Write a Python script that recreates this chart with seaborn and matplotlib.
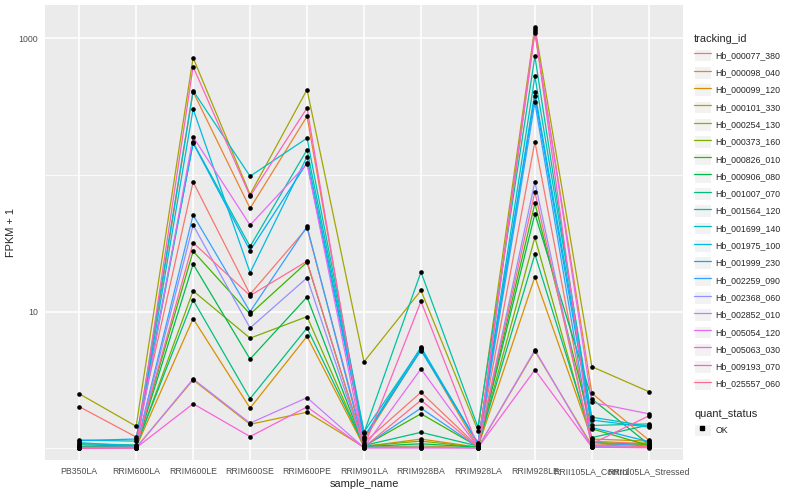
import numpy as np
import pandas as pd
import seaborn as sns
import matplotlib.pyplot as plt
from matplotlib.lines import Line2D
from matplotlib.patches import Rectangle
from matplotlib.legend_handler import HandlerTuple
import matplotlib.ticker as mticker

samples = ['PB350LA', 'RRIM600LA', 'RRIM600LE', 'RRIM600SE', 'RRIM600PE', 'RRIM901LA',
           'RRIM928BA', 'RRIM928LA', 'RRIM928LE', 'RRII105LA_Control', 'RRII105LA_Stressed']

genes = ['Hb_000077_380', 'Hb_000098_040', 'Hb_000099_120', 'Hb_000101_330', 'Hb_000254_130',
         'Hb_000373_160', 'Hb_000826_010', 'Hb_000906_080', 'Hb_001007_070', 'Hb_001564_120',
         'Hb_001699_140', 'Hb_001975_100', 'Hb_001999_230', 'Hb_002259_090', 'Hb_002368_060',
         'Hb_002852_010', 'Hb_005054_120', 'Hb_005063_030', 'Hb_009193_070', 'Hb_025557_060']

# FPKM + 1, one row per gene, columns follow `samples`
Hb_000077_380 = [2.02, 1.21, 89, 13.4, 41, 1.10, 2.57, 1.03, 175, 1.13, 1.08]
Hb_000098_040 = [1.02, 1.02, 407, 57, 269, 1.15, 5.3, 1.02, 1099, 2.53, 1.15]
Hb_000099_120 = [1.01, 1.02, 8.9, 1.97, 6.6, 1.03, 1.17, 1.02, 18.0, 1.17, 1.13]
Hb_000101_330 = [1.01, 1.01, 3.17, 1.50, 1.84, 1.02, 1.04, 1.01, 5.15, 1.05, 1.10]
Hb_000254_130 = [2.51, 1.45, 721, 72, 421, 4.3, 14.3, 1.35, 1216, 3.96, 2.60]
Hb_000373_160 = [1.02, 1.02, 14.2, 6.4, 9.2, 1.04, 1.13, 1.02, 35, 1.11, 1.06]
Hb_000826_010 = [1.02, 1.03, 27.7, 9.6, 23.0, 1.04, 1.79, 1.03, 62, 1.39, 1.05]
Hb_000906_080 = [1.02, 1.02, 22.3, 4.5, 12.8, 1.03, 1.08, 1.02, 52, 2.30, 1.07]
Hb_001007_070 = [1.06, 1.04, 12.2, 2.31, 7.6, 1.05, 1.31, 1.04, 26.3, 1.20, 1.48]
Hb_001564_120 = [1.08, 1.06, 173, 30, 153, 1.30, 19.5, 1.43, 738, 1.47, 1.51]
Hb_001699_140 = [1.15, 1.13, 414, 98, 186, 1.32, 5.4, 1.08, 527, 1.69, 1.45]
Hb_001975_100 = [1.10, 1.04, 304, 19.3, 136, 1.21, 5.5, 1.08, 403, 1.61, 1.43]
Hb_001999_230 = [1.14, 1.17, 171, 28, 123, 1.20, 5.2, 1.10, 378, 1.42, 1.12]
Hb_002259_090 = [1.02, 1.02, 51, 10, 42, 1.03, 1.97, 1.02, 340, 1.10, 1.04]
Hb_002368_060 = [1.01, 1.01, 43, 7.6, 17.7, 1.02, 1.02, 1.01, 89, 1.03, 1.02]
Hb_002852_010 = [1.01, 1.01, 3.22, 1.53, 2.35, 1.01, 1.01, 1.01, 5.25, 1.02, 1.02]
Hb_005054_120 = [1.01, 1.02, 190, 43, 121, 1.02, 3.81, 1.02, 1130, 2.17, 1.79]
Hb_005063_030 = [1.00, 1.01, 2.12, 1.22, 2.01, 1.01, 1.01, 1.01, 3.75, 1.02, 1.01]
Hb_009193_070 = [1.01, 1.01, 620, 70, 309, 1.02, 11.9, 1.02, 1170, 1.08, 1.73]
Hb_025557_060 = [1.01, 1.01, 32, 13.1, 23.4, 1.02, 2.25, 1.02, 75, 1.06, 1.03]

values = [Hb_000077_380, Hb_000098_040, Hb_000099_120, Hb_000101_330, Hb_000254_130,
          Hb_000373_160, Hb_000826_010, Hb_000906_080, Hb_001007_070, Hb_001564_120,
          Hb_001699_140, Hb_001975_100, Hb_001999_230, Hb_002259_090, Hb_002368_060,
          Hb_002852_010, Hb_005054_120, Hb_005063_030, Hb_009193_070, Hb_025557_060]

rows = []
for g, vals in zip(genes, values):
    for s, v in zip(samples, vals):
        rows.append({'tracking_id': g, 'sample_name': s, 'fpkm': v, 'quant_status': 'OK'})
df = pd.DataFrame(rows)

# ggplot-like hue palette
hex_cols = ['#F8766D', '#EA8331', '#D89000', '#C09B00', '#A3A500', '#7CAE00', '#39B600',
            '#00BB4E', '#00BF7D', '#00C1A3', '#00BFC4', '#00BAE0', '#00B0F6', '#35A2FF',
            '#9590FF', '#C77CFF', '#E76BF3', '#FA62DB', '#FF62BC', '#FF6C91']
palette = dict(zip(genes, hex_cols))

sns.set_style('darkgrid', {'axes.facecolor': '#EBEBEB', 'grid.color': 'white'})
plt.rcParams['font.family'] = ['Liberation Sans', 'DejaVu Sans']

fig = plt.figure(figsize=(8, 5), dpi=100)
ax = fig.add_axes([45 / 800, 40 / 500, 638 / 800, 455 / 500])

sns.lineplot(data=df, x='sample_name', y='fpkm', hue='tracking_id', palette=palette,
             sort=False, lw=0.9, legend=False, ax=ax, estimator=None, units='tracking_id')
sns.scatterplot(data=df, x='sample_name', y='fpkm', color='black', s=11, linewidth=0,
                legend=False, ax=ax, zorder=5)

ax.set_yscale('log')
ax.set_ylim(0.822, 1753)
ax.set_xlim(-0.6, len(samples) - 0.4)
ax.yaxis.set_major_locator(mticker.FixedLocator([10, 1000]))
ax.yaxis.set_minor_locator(mticker.FixedLocator([1, 100]))
ax.yaxis.set_major_formatter(mticker.FuncFormatter(lambda v, p: f'{int(v)}'))
ax.yaxis.set_minor_formatter(mticker.NullFormatter())
ax.grid(which='major', color='white', lw=1.1)
ax.grid(which='minor', color='white', lw=0.55)
ax.grid(axis='x', which='major', color='white', lw=1.1)
for sp in ax.spines.values():
    sp.set_visible(False)
ax.tick_params(axis='both', which='major', length=3, width=0.8, color='#333333',
               labelsize=6.3, labelcolor='#4D4D4D', pad=2)
ax.tick_params(axis='y', which='minor', length=0)
ax.set_xlabel('sample_name', fontsize=7.9, labelpad=2)
ax.set_ylabel('FPKM + 1', fontsize=7.9, labelpad=2)

key_bg = '#F2F2F2'
tuple_handler = {tuple: HandlerTuple(ndivide=1, pad=0)}
handles = [(Rectangle((0, 0), 1, 1, facecolor=key_bg, edgecolor='white', lw=0.8),
            Line2D([], [], color=palette[g], lw=0.9)) for g in genes]
fig.legend(handles, genes, title='tracking_id', loc='upper left', handler_map=tuple_handler,
           bbox_to_anchor=(688 / 800, 472 / 500), frameon=False, fontsize=6.3,
           title_fontsize=7.9, handlelength=1.9, handleheight=1.85, labelspacing=0.53,
           handletextpad=0.5, alignment='left', borderaxespad=0.3)
ok = [(Rectangle((0, 0), 1, 1, facecolor=key_bg, edgecolor='white', lw=0.8),
       Line2D([], [], color='black', marker='s', ms=2.5, lw=0))]
fig.legend(ok, ['OK'], title='quant_status', loc='upper left', handler_map=tuple_handler,
           bbox_to_anchor=(688 / 800, 97 / 500), frameon=False, fontsize=6.3,
           title_fontsize=7.9, handlelength=1.9, handleheight=1.85,
           handletextpad=0.5, alignment='left', borderaxespad=0.3)

fig.savefig('out.png', dpi=100)
